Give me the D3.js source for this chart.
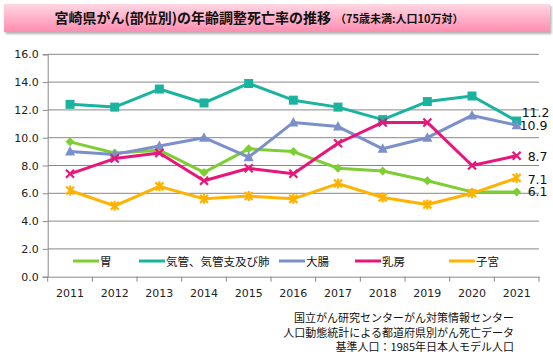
<!DOCTYPE html>
<html><head><meta charset="utf-8">
<script src="https://cdn.jsdelivr.net/npm/d3@7"></script>
<style>
body{margin:0;background:#fff;}
svg{display:block;}
</style></head>
<body>
<svg id="c" width="553" height="360"></svg>
<script>
const years = ["2011","2012","2013","2014","2015","2016","2017","2018","2019","2020","2021"];
const stomach = [9.7, 8.9, 9.1, 7.5, 9.2, 9.0, 7.8, 7.6, 6.9, 6.1, 6.1];
const lung = [12.4, 12.2, 13.5, 12.5, 13.9, 12.7, 12.2, 11.3, 12.6, 13.0, 11.2];
const colon = [9.0, 8.8, 9.4, 10.0, 8.6, 11.1, 10.8, 9.2, 10.0, 11.6, 10.9];
const breast = [7.4, 8.5, 8.9, 6.9, 7.8, 7.4, 9.6, 11.1, 11.1, 8.0, 8.7];
const uterus = [6.2, 5.1, 6.5, 5.6, 5.8, 5.6, 6.7, 5.7, 5.2, 6.0, 7.1];
const seriesNames = ["胃", "気管、気管支及び肺", "大腸", "乳房", "子宮"];
const yTicks = [0, 2, 4, 6, 8, 10, 12, 14, 16];
const sourceLines = ["国立がん研究センターがん対策情報センター", "人口動態統計による都道府県別がん死亡データ", "基準人口：1985年日本人モデル人口"];

const series = [
  {name: seriesNames[0], values: stomach, color: "#7DCE33", marker: "diamond"},
  {name: seriesNames[1], values: lung, color: "#1AB39F", marker: "square"},
  {name: seriesNames[2], values: colon, color: "#7B8FCB", marker: "triangle"},
  {name: seriesNames[3], values: breast, color: "#E8157A", marker: "x"},
  {name: seriesNames[4], values: uterus, color: "#FFB300", marker: "star"}
];

const svg = d3.select("#c");
const defs = svg.append("defs");
const grad = defs.append("linearGradient").attr("id","tg").attr("x1",0).attr("y1",0).attr("x2",0).attr("y2",1);
grad.append("stop").attr("offset","0%").attr("stop-color","#ffd6e2");
grad.append("stop").attr("offset","100%").attr("stop-color","#ff8db0");
const flt = defs.append("filter").attr("id","sh").attr("x","-5%").attr("y","-20%").attr("width","110%").attr("height","160%");
flt.append("feDropShadow").attr("dx",1.5).attr("dy",2).attr("stdDeviation",1.2).attr("flood-color","#000").attr("flood-opacity",0.3);

svg.append("rect").attr("x",4).attr("y",4).attr("width",546).attr("height",28)
  .attr("fill","url(#tg)").attr("filter","url(#sh)");
const title = svg.append("text").attr("x",259).attr("y",23).attr("text-anchor","middle")
  .style("font-family","'Noto Sans CJK JP'").style("font-weight","bold").attr("fill","#111");
title.append("tspan").style("font-size","14px").text("宮崎県がん(部位別)の年齢調整死亡率の推移");
title.append("tspan").style("font-size","11px").attr("dx",4).text("（75歳未満:人口10万対）");

const m = {l: 47.7, r: 539, t: 54.3, b: 276.7};
const x = d3.scaleBand().domain(years).range([m.l, m.r]);
const y = d3.scaleLinear().domain([0,16]).range([m.b, m.t]);

// gridlines
svg.append("g").selectAll("line").data(yTicks.filter(d=>d>0)).join("line")
  .attr("x1", m.l).attr("x2", m.r).attr("y1", d=>y(d)).attr("y2", d=>y(d))
  .attr("stroke","#888").attr("stroke-width",1);

// y axis
const yAxis = d3.axisLeft(y).tickValues(yTicks).tickFormat(d3.format(".1f")).tickSize(5).tickPadding(4);
const gy = svg.append("g").attr("transform",`translate(${m.l},0)`).call(yAxis);
gy.select(".domain").attr("stroke","#888");
gy.selectAll(".tick line").attr("stroke","#888");
gy.selectAll("text").style("font-family","'DejaVu Sans'").style("font-size","11px").attr("fill","#222");

// x axis
const xAxis = d3.axisBottom(x).tickSize(0).tickPadding(13);
const gx = svg.append("g").attr("transform",`translate(0,${m.b})`).call(xAxis);
gx.select(".domain").attr("stroke","#888");
gx.selectAll("text").style("font-family","'DejaVu Sans'").style("font-size","11px").attr("fill","#222");
const bounds = years.map(d=>x(d)).concat([m.r]);
gx.append("g").selectAll("line").data(bounds).join("line")
  .attr("x1",d=>d).attr("x2",d=>d).attr("y1",0).attr("y2",5).attr("stroke","#888");

const cx = d => x(d) + x.bandwidth()/2;
const line = d3.line().x((d,i)=>cx(years[i])).y(d=>y(d));

function drawMarker(g, type, color, px, py) {
  if (type === "diamond") {
    g.append("path").attr("d",`M${px},${py-4.5}L${px+4.5},${py}L${px},${py+4.5}L${px-4.5},${py}Z`).attr("fill",color);
  } else if (type === "square") {
    g.append("rect").attr("x",px-4.5).attr("y",py-4.5).attr("width",9).attr("height",9).attr("fill",color);
  } else if (type === "triangle") {
    g.append("path").attr("d",`M${px},${py-5.5}L${px+5},${py+4}L${px-5},${py+4}Z`).attr("fill",color);
  } else if (type === "x") {
    g.append("path").attr("d",`M${px-4},${py-4}L${px+4},${py+4}M${px+4},${py-4}L${px-4},${py+4}`).attr("stroke",color).attr("stroke-width",2.2);
  } else if (type === "star") {
    g.append("path").attr("d",`M${px-4},${py-4}L${px+4},${py+4}M${px+4},${py-4}L${px-4},${py+4}M${px},${py-5}L${px},${py+5}`).attr("stroke",color).attr("stroke-width",2.2);
  }
}

series.forEach(s=>{
  const g = svg.append("g");
  g.append("path").datum(s.values).attr("d",line).attr("fill","none")
    .attr("stroke",s.color).attr("stroke-width",3).attr("stroke-linejoin","round");
  s.values.forEach((v,i)=>drawMarker(g, s.marker, s.color, cx(years[i]), y(v)));
});

// end labels
const lastIdx = years.length-1;
const labelDy = [0, -9, 0, 1, 1];
const labelDx = [11, 5, 3, 11, 11];
series.forEach((s,k)=>{
  const v = s.values[lastIdx];
  svg.append("text").attr("x", cx(years[lastIdx]) + labelDx[k]).attr("y", y(v) + labelDy[k])
    .attr("dy","0.36em")
    .style("font-family","'DejaVu Sans'").style("font-size","12.5px").attr("fill","#111")
    .text(d3.format(".1f")(v));
});

// legend
const legX = [73, 139, 279, 355, 449];
const legY = 261;
series.forEach((s,k)=>{
  const g = svg.append("g");
  g.append("line").attr("x1",legX[k]).attr("x2",legX[k]+26).attr("y1",legY).attr("y2",legY)
    .attr("stroke",s.color).attr("stroke-width",3);
  g.append("text").attr("x",legX[k]+27).attr("y",legY+4.5)
    .style("font-family","'Noto Sans CJK JP'").style("font-size","11.5px").attr("fill","#111").text(s.name);
});

// source
sourceLines.forEach((t,i)=>{
  svg.append("text").attr("x",514).attr("y",322+i*14.5).attr("text-anchor","end")
    .style("font-family","'Noto Sans CJK JP'").style("font-size","11px").attr("fill","#111").text(t);
});
</script>
</body></html>
